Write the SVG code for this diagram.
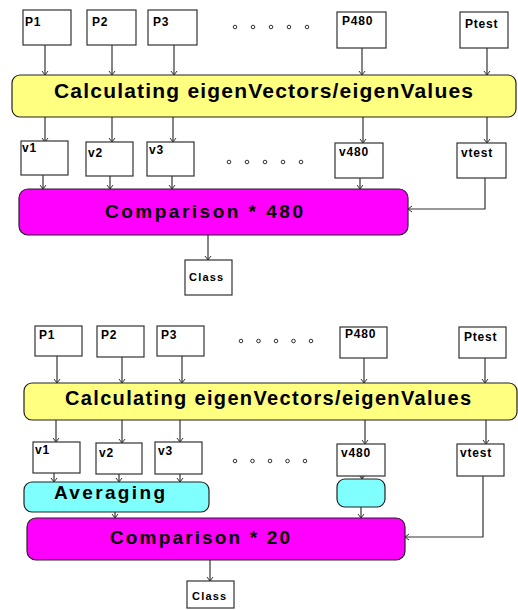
<svg xmlns="http://www.w3.org/2000/svg" width="518" height="610" viewBox="0 0 518 610">
<defs>
<marker id="arr" viewBox="0 0 8 8" refX="7" refY="4" markerWidth="8" markerHeight="8" markerUnits="userSpaceOnUse" orient="auto">
<path d="M3,1 L7,4 L3,7" fill="none" stroke="#333" stroke-width="1"/>
</marker>
</defs>
<style>
.box{fill:#fff;stroke:#333;stroke-width:1.2}
.lbl{font-family:"Liberation Sans",Arial,sans-serif;font-weight:bold;font-size:12px;letter-spacing:0.8px;fill:#000}
.cls{font-family:"Liberation Sans",Arial,sans-serif;font-weight:bold;font-size:11px;letter-spacing:1.2px;fill:#000}
.big{font-family:"Liberation Sans",Arial,sans-serif;font-weight:bold;font-size:21px;fill:#000}
.yel{fill:#ffff80;stroke:#222;stroke-width:1.2}
.mag{fill:#ff00ff;stroke:#222;stroke-width:1.2}
.cyn{fill:#80ffff;stroke:#222;stroke-width:1.2}
.ln{fill:none;stroke:#333;stroke-width:1.2;marker-end:url(#arr)}
.dot{fill:none;stroke:#333;stroke-width:1}
</style>

<!-- ===== Top diagram ===== -->
<g id="connectors-top">
<line class="ln" x1="45" y1="45" x2="45" y2="75"/>
<line class="ln" x1="112" y1="45" x2="112" y2="75"/>
<line class="ln" x1="174" y1="45" x2="174" y2="75"/>
<line class="ln" x1="362" y1="48" x2="362" y2="75"/>
<line class="ln" x1="487" y1="48" x2="487" y2="75"/>
<line class="ln" x1="45" y1="117" x2="45" y2="142"/>
<line class="ln" x1="112" y1="117" x2="112" y2="142"/>
<line class="ln" x1="173" y1="117" x2="173" y2="142"/>
<line class="ln" x1="363" y1="117" x2="363" y2="143"/>
<line class="ln" x1="487" y1="117" x2="487" y2="143"/>
<line class="ln" x1="43" y1="175" x2="43" y2="189"/>
<line class="ln" x1="110" y1="176" x2="110" y2="189"/>
<line class="ln" x1="172" y1="176" x2="172" y2="189"/>
<line class="ln" x1="360" y1="178" x2="360" y2="189"/>
<polyline class="ln" points="485,178 485,209 408,209"/>
<line class="ln" x1="208" y1="235" x2="208" y2="260"/>
</g>

<g id="t-P1"><rect class="box" x="23" y="10" width="48" height="35"/><text class="lbl" x="25" y="26">P1</text></g>
<g id="t-P2"><rect class="box" x="87" y="10" width="49" height="35"/><text class="lbl" x="92" y="26">P2</text></g>
<g id="t-P3"><rect class="box" x="148" y="10" width="49" height="35"/><text class="lbl" x="153" y="26">P3</text></g>
<g id="t-dots1">
<circle class="dot" cx="235" cy="27" r="1.8"/><circle class="dot" cx="253" cy="27" r="1.8"/><circle class="dot" cx="271" cy="27" r="1.8"/><circle class="dot" cx="289" cy="27" r="1.8"/><circle class="dot" cx="307" cy="27" r="1.8"/>
</g>
<g id="t-P480"><rect class="box" x="337" y="12" width="49" height="36"/><text class="lbl" x="342" y="25">P480</text></g>
<g id="t-Ptest"><rect class="box" x="460" y="12" width="48" height="36"/><text class="lbl" x="465" y="28">Ptest</text></g>

<g id="t-calc"><rect class="yel" x="12" y="75" width="504" height="42" rx="8"/><text class="big" x="54" y="98" textLength="419" lengthAdjust="spacing">Calculating eigenVectors/eigenValues</text></g>

<g id="t-v1"><rect class="box" x="21" y="141" width="47" height="34"/><text class="lbl" x="22" y="152">v1</text></g>
<g id="t-v2"><rect class="box" x="86" y="142" width="47" height="34"/><text class="lbl" x="88" y="157">v2</text></g>
<g id="t-v3"><rect class="box" x="147" y="142" width="47" height="34"/><text class="lbl" x="149" y="154">v3</text></g>
<g id="t-dots2">
<circle class="dot" cx="229" cy="162" r="1.8"/><circle class="dot" cx="247" cy="162" r="1.8"/><circle class="dot" cx="265" cy="162" r="1.8"/><circle class="dot" cx="283" cy="162" r="1.8"/><circle class="dot" cx="301" cy="162" r="1.8"/>
</g>
<g id="t-v480"><rect class="box" x="335" y="143" width="48" height="35"/><text class="lbl" x="339" y="156">v480</text></g>
<g id="t-vtest"><rect class="box" x="457" y="143" width="49" height="35"/><text class="lbl" x="461" y="157">vtest</text></g>

<g id="t-comp"><rect class="mag" x="19" y="189" width="389" height="46" rx="9"/><text class="big" style="font-size:19px" x="105" y="218" textLength="198" lengthAdjust="spacing">Comparison * 480</text></g>

<g id="t-class"><rect class="box" x="185" y="260" width="47" height="35"/><text class="cls" x="189" y="281">Class</text></g>

<!-- ===== Bottom diagram ===== -->
<g id="connectors-bottom">
<line class="ln" x1="57" y1="356" x2="57" y2="383"/>
<line class="ln" x1="122" y1="357" x2="122" y2="383"/>
<line class="ln" x1="182" y1="356" x2="182" y2="383"/>
<line class="ln" x1="364" y1="358" x2="364" y2="383"/>
<line class="ln" x1="485" y1="358" x2="485" y2="383"/>
<line class="ln" x1="56" y1="420" x2="56" y2="442"/>
<line class="ln" x1="122" y1="420" x2="122" y2="443"/>
<line class="ln" x1="180" y1="420" x2="180" y2="442"/>
<line class="ln" x1="365" y1="420" x2="365" y2="444"/>
<line class="ln" x1="486" y1="420" x2="486" y2="444"/>
<line class="ln" x1="54" y1="473" x2="54" y2="482"/>
<line class="ln" x1="119" y1="474" x2="119" y2="482"/>
<line class="ln" x1="180" y1="474" x2="180" y2="482"/>
<line class="ln" x1="362" y1="476" x2="362" y2="479"/>
<line class="ln" x1="115" y1="512" x2="115" y2="518"/>
<line class="ln" x1="361" y1="507" x2="361" y2="518"/>
<polyline class="ln" points="483,476 483,537 405,537"/>
<line class="ln" x1="210" y1="560" x2="210" y2="581"/>
</g>

<g id="b-P1"><rect class="box" x="35" y="326" width="47" height="30"/><text class="lbl" x="39" y="339">P1</text></g>
<g id="b-P2"><rect class="box" x="97" y="326" width="47" height="31"/><text class="lbl" x="101" y="339">P2</text></g>
<g id="b-P3"><rect class="box" x="157" y="326" width="47" height="30"/><text class="lbl" x="161" y="339">P3</text></g>
<g id="b-dots1">
<circle class="dot" cx="241" cy="341" r="1.8"/><circle class="dot" cx="258.5" cy="341" r="1.8"/><circle class="dot" cx="276" cy="341" r="1.8"/><circle class="dot" cx="293.5" cy="341" r="1.8"/><circle class="dot" cx="311" cy="341" r="1.8"/>
</g>
<g id="b-P480"><rect class="box" x="340" y="327" width="47" height="31"/><text class="lbl" x="345" y="338">P480</text></g>
<g id="b-Ptest"><rect class="box" x="459" y="327" width="47" height="31"/><text class="lbl" x="464" y="341">Ptest</text></g>

<g id="b-calc"><rect class="yel" x="24" y="383" width="493" height="37" rx="8"/><text class="big" style="font-size:20px" x="65" y="405" textLength="406" lengthAdjust="spacing">Calculating eigenVectors/eigenValues</text></g>

<g id="b-v1"><rect class="box" x="33" y="442" width="47" height="31"/><text class="lbl" x="35" y="454">v1</text></g>
<g id="b-v2"><rect class="box" x="96" y="443" width="46" height="31"/><text class="lbl" x="99" y="457">v2</text></g>
<g id="b-v3"><rect class="box" x="155" y="442" width="47" height="32"/><text class="lbl" x="158" y="455">v3</text></g>
<g id="b-dots2">
<circle class="dot" cx="235" cy="461" r="1.8"/><circle class="dot" cx="252.5" cy="461" r="1.8"/><circle class="dot" cx="270" cy="461" r="1.8"/><circle class="dot" cx="287.5" cy="461" r="1.8"/><circle class="dot" cx="305" cy="461" r="1.8"/>
</g>
<g id="b-v480"><rect class="box" x="337" y="444" width="48" height="32"/><text class="lbl" x="341" y="457">v480</text></g>
<g id="b-vtest"><rect class="box" x="457" y="444" width="47" height="32"/><text class="lbl" x="460" y="457">vtest</text></g>

<g id="b-avg"><rect class="cyn" x="24" y="482" width="185" height="30" rx="8"/><text class="big" style="font-size:19px" x="54" y="499" textLength="111" lengthAdjust="spacing">Averaging</text></g>
<g id="b-avg2"><rect class="cyn" x="337" y="479" width="48" height="28" rx="8"/></g>

<g id="b-comp"><rect class="mag" x="27" y="518" width="378" height="42" rx="9"/><text class="big" style="font-size:19px" x="110" y="544" textLength="180" lengthAdjust="spacing">Comparison * 20</text></g>

<g id="b-class"><rect class="box" x="187" y="581" width="47" height="27"/><text class="cls" x="192" y="600">Class</text></g>
</svg>
